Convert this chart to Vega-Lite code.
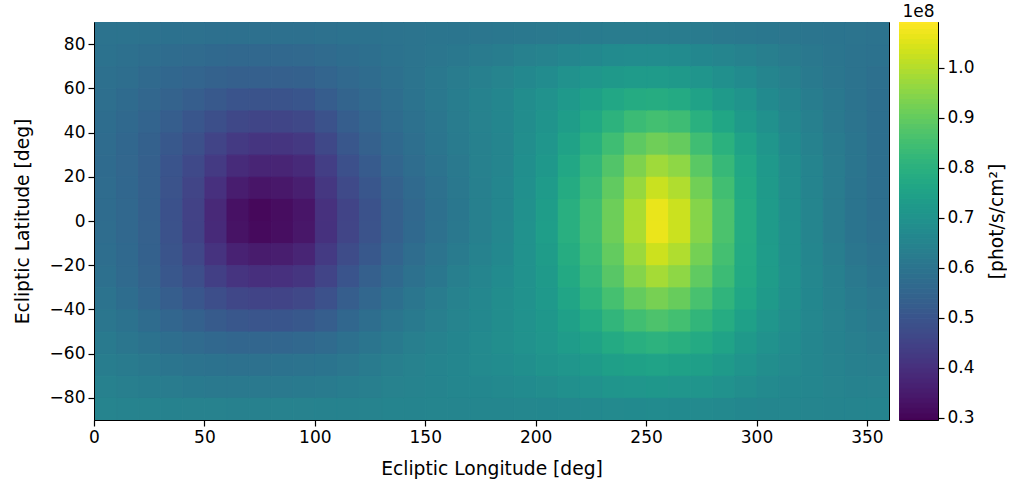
{
"$schema": "https://vega.github.io/schema/vega-lite/v6.json",
"background": "white",
"padding": {"left": 12, "top": 2, "right": 0, "bottom": 0},
"spacing": 8,
"config": {
"font": "DejaVu Sans",
"view": {"stroke": "#000", "strokeWidth": 1},
"axis": {"labelFont": "DejaVu Sans", "labelFontSize": 17, "labelColor": "#000", "titleFont": "DejaVu Sans", "titleFontSize": 18.7, "titleFontWeight": "normal", "titleColor": "#000", "tickColor": "#000", "tickSize": 6, "tickWidth": 1.2, "domainColor": "#000", "domainWidth": 1, "grid": false, "labelPadding": 3},
"title": {"font": "DejaVu Sans", "fontSize": 17, "fontWeight": "normal", "color": "#000"}
},
"hconcat": [
{
"width": 795, "height": 398,
"data": {"values": [
{"lon":5,"lat":85,"v":0.598},{"lon":5,"lat":75,"v":0.593},{"lon":5,"lat":65,"v":0.588},{"lon":5,"lat":55,"v":0.583},{"lon":5,"lat":45,"v":0.578},{"lon":5,"lat":35,"v":0.573},{"lon":5,"lat":25,"v":0.571},{"lon":5,"lat":15,"v":0.573},{"lon":5,"lat":5,"v":0.575},{"lon":5,"lat":-5,"v":0.577},{"lon":5,"lat":-15,"v":0.581},{"lon":5,"lat":-25,"v":0.587},{"lon":5,"lat":-35,"v":0.596},{"lon":5,"lat":-45,"v":0.608},{"lon":5,"lat":-55,"v":0.619},{"lon":5,"lat":-65,"v":0.63},{"lon":5,"lat":-75,"v":0.64},{"lon":5,"lat":-85,"v":0.65},
{"lon":15,"lat":85,"v":0.596},{"lon":15,"lat":75,"v":0.588},{"lon":15,"lat":65,"v":0.579},{"lon":15,"lat":55,"v":0.572},{"lon":15,"lat":45,"v":0.565},{"lon":15,"lat":35,"v":0.558},{"lon":15,"lat":25,"v":0.556},{"lon":15,"lat":15,"v":0.558},{"lon":15,"lat":5,"v":0.56},{"lon":15,"lat":-5,"v":0.561},{"lon":15,"lat":-15,"v":0.564},{"lon":15,"lat":-25,"v":0.568},{"lon":15,"lat":-35,"v":0.578},{"lon":15,"lat":-45,"v":0.593},{"lon":15,"lat":-55,"v":0.608},{"lon":15,"lat":-65,"v":0.622},{"lon":15,"lat":-75,"v":0.635},{"lon":15,"lat":-85,"v":0.648},
{"lon":25,"lat":85,"v":0.593},{"lon":25,"lat":75,"v":0.58},{"lon":25,"lat":65,"v":0.567},{"lon":25,"lat":55,"v":0.556},{"lon":25,"lat":45,"v":0.548},{"lon":25,"lat":35,"v":0.539},{"lon":25,"lat":25,"v":0.535},{"lon":25,"lat":15,"v":0.535},{"lon":25,"lat":5,"v":0.535},{"lon":25,"lat":-5,"v":0.536},{"lon":25,"lat":-15,"v":0.539},{"lon":25,"lat":-25,"v":0.543},{"lon":25,"lat":-35,"v":0.555},{"lon":25,"lat":-45,"v":0.575},{"lon":25,"lat":-55,"v":0.595},{"lon":25,"lat":-65,"v":0.613},{"lon":25,"lat":-75,"v":0.63},{"lon":25,"lat":-85,"v":0.647},
{"lon":35,"lat":85,"v":0.592},{"lon":35,"lat":75,"v":0.575},{"lon":35,"lat":65,"v":0.558},{"lon":35,"lat":55,"v":0.543},{"lon":35,"lat":45,"v":0.528},{"lon":35,"lat":35,"v":0.513},{"lon":35,"lat":25,"v":0.502},{"lon":35,"lat":15,"v":0.496},{"lon":35,"lat":5,"v":0.492},{"lon":35,"lat":-5,"v":0.493},{"lon":35,"lat":-15,"v":0.5},{"lon":35,"lat":-25,"v":0.51},{"lon":35,"lat":-35,"v":0.528},{"lon":35,"lat":-45,"v":0.555},{"lon":35,"lat":-55,"v":0.582},{"lon":35,"lat":-65,"v":0.605},{"lon":35,"lat":-75,"v":0.625},{"lon":35,"lat":-85,"v":0.645},
{"lon":45,"lat":85,"v":0.59},{"lon":45,"lat":75,"v":0.57},{"lon":45,"lat":65,"v":0.55},{"lon":45,"lat":55,"v":0.529},{"lon":45,"lat":45,"v":0.508},{"lon":45,"lat":35,"v":0.486},{"lon":45,"lat":25,"v":0.468},{"lon":45,"lat":15,"v":0.457},{"lon":45,"lat":5,"v":0.448},{"lon":45,"lat":-5,"v":0.45},{"lon":45,"lat":-15,"v":0.463},{"lon":45,"lat":-25,"v":0.48},{"lon":45,"lat":-35,"v":0.506},{"lon":45,"lat":-45,"v":0.538},{"lon":45,"lat":-55,"v":0.569},{"lon":45,"lat":-65,"v":0.597},{"lon":45,"lat":-75,"v":0.62},{"lon":45,"lat":-85,"v":0.643},
{"lon":55,"lat":85,"v":0.588},{"lon":55,"lat":75,"v":0.565},{"lon":55,"lat":65,"v":0.542},{"lon":55,"lat":55,"v":0.515},{"lon":55,"lat":45,"v":0.485},{"lon":55,"lat":35,"v":0.455},{"lon":55,"lat":25,"v":0.427},{"lon":55,"lat":15,"v":0.404},{"lon":55,"lat":5,"v":0.386},{"lon":55,"lat":-5,"v":0.388},{"lon":55,"lat":-15,"v":0.412},{"lon":55,"lat":-25,"v":0.442},{"lon":55,"lat":-35,"v":0.48},{"lon":55,"lat":-45,"v":0.52},{"lon":55,"lat":-55,"v":0.56},{"lon":55,"lat":-65,"v":0.593},{"lon":55,"lat":-75,"v":0.618},{"lon":55,"lat":-85,"v":0.643},
{"lon":65,"lat":85,"v":0.587},{"lon":65,"lat":75,"v":0.56},{"lon":65,"lat":65,"v":0.533},{"lon":65,"lat":55,"v":0.502},{"lon":65,"lat":45,"v":0.465},{"lon":65,"lat":35,"v":0.428},{"lon":65,"lat":25,"v":0.39},{"lon":65,"lat":15,"v":0.356},{"lon":65,"lat":5,"v":0.329},{"lon":65,"lat":-5,"v":0.332},{"lon":65,"lat":-15,"v":0.368},{"lon":65,"lat":-25,"v":0.414},{"lon":65,"lat":-35,"v":0.463},{"lon":65,"lat":-45,"v":0.509},{"lon":65,"lat":-55,"v":0.555},{"lon":65,"lat":-65,"v":0.591},{"lon":65,"lat":-75,"v":0.617},{"lon":65,"lat":-85,"v":0.642},
{"lon":75,"lat":85,"v":0.587},{"lon":75,"lat":75,"v":0.56},{"lon":75,"lat":65,"v":0.533},{"lon":75,"lat":55,"v":0.499},{"lon":75,"lat":45,"v":0.458},{"lon":75,"lat":35,"v":0.416},{"lon":75,"lat":25,"v":0.374},{"lon":75,"lat":15,"v":0.338},{"lon":75,"lat":5,"v":0.31},{"lon":75,"lat":-5,"v":0.313},{"lon":75,"lat":-15,"v":0.352},{"lon":75,"lat":-25,"v":0.401},{"lon":75,"lat":-35,"v":0.455},{"lon":75,"lat":-45,"v":0.504},{"lon":75,"lat":-55,"v":0.553},{"lon":75,"lat":-65,"v":0.591},{"lon":75,"lat":-75,"v":0.617},{"lon":75,"lat":-85,"v":0.642},
{"lon":85,"lat":85,"v":0.587},{"lon":85,"lat":75,"v":0.56},{"lon":85,"lat":65,"v":0.533},{"lon":85,"lat":55,"v":0.499},{"lon":85,"lat":45,"v":0.458},{"lon":85,"lat":35,"v":0.416},{"lon":85,"lat":25,"v":0.376},{"lon":85,"lat":15,"v":0.344},{"lon":85,"lat":5,"v":0.319},{"lon":85,"lat":-5,"v":0.322},{"lon":85,"lat":-15,"v":0.358},{"lon":85,"lat":-25,"v":0.404},{"lon":85,"lat":-35,"v":0.455},{"lon":85,"lat":-45,"v":0.505},{"lon":85,"lat":-55,"v":0.555},{"lon":85,"lat":-65,"v":0.593},{"lon":85,"lat":-75,"v":0.618},{"lon":85,"lat":-85,"v":0.643},
{"lon":95,"lat":85,"v":0.588},{"lon":95,"lat":75,"v":0.563},{"lon":95,"lat":65,"v":0.538},{"lon":95,"lat":55,"v":0.505},{"lon":95,"lat":45,"v":0.465},{"lon":95,"lat":35,"v":0.425},{"lon":95,"lat":25,"v":0.389},{"lon":95,"lat":15,"v":0.36},{"lon":95,"lat":5,"v":0.338},{"lon":95,"lat":-5,"v":0.341},{"lon":95,"lat":-15,"v":0.374},{"lon":95,"lat":-25,"v":0.416},{"lon":95,"lat":-35,"v":0.464},{"lon":95,"lat":-45,"v":0.513},{"lon":95,"lat":-55,"v":0.561},{"lon":95,"lat":-65,"v":0.597},{"lon":95,"lat":-75,"v":0.62},{"lon":95,"lat":-85,"v":0.643},
{"lon":105,"lat":85,"v":0.59},{"lon":105,"lat":75,"v":0.57},{"lon":105,"lat":65,"v":0.55},{"lon":105,"lat":55,"v":0.525},{"lon":105,"lat":45,"v":0.495},{"lon":105,"lat":35,"v":0.465},{"lon":105,"lat":25,"v":0.439},{"lon":105,"lat":15,"v":0.42},{"lon":105,"lat":5,"v":0.405},{"lon":105,"lat":-5,"v":0.407},{"lon":105,"lat":-15,"v":0.428},{"lon":105,"lat":-25,"v":0.455},{"lon":105,"lat":-35,"v":0.49},{"lon":105,"lat":-45,"v":0.53},{"lon":105,"lat":-55,"v":0.57},{"lon":105,"lat":-65,"v":0.601},{"lon":105,"lat":-75,"v":0.623},{"lon":105,"lat":-85,"v":0.644},
{"lon":115,"lat":85,"v":0.593},{"lon":115,"lat":75,"v":0.578},{"lon":115,"lat":65,"v":0.563},{"lon":115,"lat":55,"v":0.546},{"lon":115,"lat":45,"v":0.528},{"lon":115,"lat":35,"v":0.509},{"lon":115,"lat":25,"v":0.489},{"lon":115,"lat":15,"v":0.47},{"lon":115,"lat":5,"v":0.455},{"lon":115,"lat":-5,"v":0.457},{"lon":115,"lat":-15,"v":0.476},{"lon":115,"lat":-25,"v":0.501},{"lon":115,"lat":-35,"v":0.529},{"lon":115,"lat":-45,"v":0.558},{"lon":115,"lat":-55,"v":0.586},{"lon":115,"lat":-65,"v":0.609},{"lon":115,"lat":-75,"v":0.628},{"lon":115,"lat":-85,"v":0.646},
{"lon":125,"lat":85,"v":0.595},{"lon":125,"lat":75,"v":0.585},{"lon":125,"lat":65,"v":0.575},{"lon":125,"lat":55,"v":0.563},{"lon":125,"lat":45,"v":0.55},{"lon":125,"lat":35,"v":0.537},{"lon":125,"lat":25,"v":0.521},{"lon":125,"lat":15,"v":0.506},{"lon":125,"lat":5,"v":0.494},{"lon":125,"lat":-5,"v":0.496},{"lon":125,"lat":-15,"v":0.512},{"lon":125,"lat":-25,"v":0.533},{"lon":125,"lat":-35,"v":0.557},{"lon":125,"lat":-45,"v":0.58},{"lon":125,"lat":-55,"v":0.603},{"lon":125,"lat":-65,"v":0.622},{"lon":125,"lat":-75,"v":0.635},{"lon":125,"lat":-85,"v":0.648},
{"lon":135,"lat":85,"v":0.598},{"lon":135,"lat":75,"v":0.593},{"lon":135,"lat":65,"v":0.588},{"lon":135,"lat":55,"v":0.581},{"lon":135,"lat":45,"v":0.573},{"lon":135,"lat":35,"v":0.564},{"lon":135,"lat":25,"v":0.553},{"lon":135,"lat":15,"v":0.542},{"lon":135,"lat":5,"v":0.533},{"lon":135,"lat":-5,"v":0.535},{"lon":135,"lat":-15,"v":0.548},{"lon":135,"lat":-25,"v":0.565},{"lon":135,"lat":-35,"v":0.584},{"lon":135,"lat":-45,"v":0.603},{"lon":135,"lat":-55,"v":0.621},{"lon":135,"lat":-65,"v":0.634},{"lon":135,"lat":-75,"v":0.643},{"lon":135,"lat":-85,"v":0.651},
{"lon":145,"lat":85,"v":0.6},{"lon":145,"lat":75,"v":0.6},{"lon":145,"lat":65,"v":0.6},{"lon":145,"lat":55,"v":0.597},{"lon":145,"lat":45,"v":0.59},{"lon":145,"lat":35,"v":0.583},{"lon":145,"lat":25,"v":0.576},{"lon":145,"lat":15,"v":0.568},{"lon":145,"lat":5,"v":0.562},{"lon":145,"lat":-5,"v":0.564},{"lon":145,"lat":-15,"v":0.576},{"lon":145,"lat":-25,"v":0.591},{"lon":145,"lat":-35,"v":0.607},{"lon":145,"lat":-45,"v":0.62},{"lon":145,"lat":-55,"v":0.633},{"lon":145,"lat":-65,"v":0.643},{"lon":145,"lat":-75,"v":0.648},{"lon":145,"lat":-85,"v":0.653},
{"lon":155,"lat":85,"v":0.603},{"lon":155,"lat":75,"v":0.608},{"lon":155,"lat":65,"v":0.613},{"lon":155,"lat":55,"v":0.613},{"lon":155,"lat":45,"v":0.608},{"lon":155,"lat":35,"v":0.603},{"lon":155,"lat":25,"v":0.597},{"lon":155,"lat":15,"v":0.591},{"lon":155,"lat":5,"v":0.587},{"lon":155,"lat":-5,"v":0.589},{"lon":155,"lat":-15,"v":0.599},{"lon":155,"lat":-25,"v":0.612},{"lon":155,"lat":-35,"v":0.625},{"lon":155,"lat":-45,"v":0.635},{"lon":155,"lat":-55,"v":0.645},{"lon":155,"lat":-65,"v":0.651},{"lon":155,"lat":-75,"v":0.653},{"lon":155,"lat":-85,"v":0.654},
{"lon":165,"lat":85,"v":0.605},{"lon":165,"lat":75,"v":0.615},{"lon":165,"lat":65,"v":0.625},{"lon":165,"lat":55,"v":0.628},{"lon":165,"lat":45,"v":0.625},{"lon":165,"lat":35,"v":0.622},{"lon":165,"lat":25,"v":0.618},{"lon":165,"lat":15,"v":0.614},{"lon":165,"lat":5,"v":0.611},{"lon":165,"lat":-5,"v":0.613},{"lon":165,"lat":-15,"v":0.622},{"lon":165,"lat":-25,"v":0.633},{"lon":165,"lat":-35,"v":0.643},{"lon":165,"lat":-45,"v":0.65},{"lon":165,"lat":-55,"v":0.657},{"lon":165,"lat":-65,"v":0.659},{"lon":165,"lat":-75,"v":0.658},{"lon":165,"lat":-85,"v":0.656},
{"lon":175,"lat":85,"v":0.608},{"lon":175,"lat":75,"v":0.623},{"lon":175,"lat":65,"v":0.638},{"lon":175,"lat":55,"v":0.644},{"lon":175,"lat":45,"v":0.643},{"lon":175,"lat":35,"v":0.641},{"lon":175,"lat":25,"v":0.639},{"lon":175,"lat":15,"v":0.637},{"lon":175,"lat":5,"v":0.636},{"lon":175,"lat":-5,"v":0.638},{"lon":175,"lat":-15,"v":0.645},{"lon":175,"lat":-25,"v":0.655},{"lon":175,"lat":-35,"v":0.663},{"lon":175,"lat":-45,"v":0.668},{"lon":175,"lat":-55,"v":0.673},{"lon":175,"lat":-65,"v":0.672},{"lon":175,"lat":-75,"v":0.665},{"lon":175,"lat":-85,"v":0.658},
{"lon":185,"lat":85,"v":0.61},{"lon":185,"lat":75,"v":0.63},{"lon":185,"lat":65,"v":0.65},{"lon":185,"lat":55,"v":0.659},{"lon":185,"lat":45,"v":0.658},{"lon":185,"lat":35,"v":0.656},{"lon":185,"lat":25,"v":0.656},{"lon":185,"lat":15,"v":0.658},{"lon":185,"lat":5,"v":0.66},{"lon":185,"lat":-5,"v":0.662},{"lon":185,"lat":-15,"v":0.668},{"lon":185,"lat":-25,"v":0.676},{"lon":185,"lat":-35,"v":0.681},{"lon":185,"lat":-45,"v":0.683},{"lon":185,"lat":-55,"v":0.684},{"lon":185,"lat":-65,"v":0.68},{"lon":185,"lat":-75,"v":0.67},{"lon":185,"lat":-85,"v":0.66},
{"lon":195,"lat":85,"v":0.613},{"lon":195,"lat":75,"v":0.64},{"lon":195,"lat":65,"v":0.667},{"lon":195,"lat":55,"v":0.681},{"lon":195,"lat":45,"v":0.683},{"lon":195,"lat":35,"v":0.684},{"lon":195,"lat":25,"v":0.687},{"lon":195,"lat":15,"v":0.691},{"lon":195,"lat":5,"v":0.694},{"lon":195,"lat":-5,"v":0.696},{"lon":195,"lat":-15,"v":0.697},{"lon":195,"lat":-25,"v":0.699},{"lon":195,"lat":-35,"v":0.699},{"lon":195,"lat":-45,"v":0.698},{"lon":195,"lat":-55,"v":0.696},{"lon":195,"lat":-65,"v":0.688},{"lon":195,"lat":-75,"v":0.675},{"lon":195,"lat":-85,"v":0.662},
{"lon":205,"lat":85,"v":0.616},{"lon":205,"lat":75,"v":0.648},{"lon":205,"lat":65,"v":0.679},{"lon":205,"lat":55,"v":0.698},{"lon":205,"lat":45,"v":0.705},{"lon":205,"lat":35,"v":0.712},{"lon":205,"lat":25,"v":0.72},{"lon":205,"lat":15,"v":0.73},{"lon":205,"lat":5,"v":0.738},{"lon":205,"lat":-5,"v":0.739},{"lon":205,"lat":-15,"v":0.734},{"lon":205,"lat":-25,"v":0.728},{"lon":205,"lat":-35,"v":0.723},{"lon":205,"lat":-45,"v":0.718},{"lon":205,"lat":-55,"v":0.713},{"lon":205,"lat":-65,"v":0.701},{"lon":205,"lat":-75,"v":0.683},{"lon":205,"lat":-85,"v":0.664},
{"lon":215,"lat":85,"v":0.619},{"lon":215,"lat":75,"v":0.658},{"lon":215,"lat":65,"v":0.696},{"lon":215,"lat":55,"v":0.723},{"lon":215,"lat":45,"v":0.738},{"lon":215,"lat":35,"v":0.753},{"lon":215,"lat":25,"v":0.769},{"lon":215,"lat":15,"v":0.784},{"lon":215,"lat":5,"v":0.796},{"lon":215,"lat":-5,"v":0.797},{"lon":215,"lat":-15,"v":0.788},{"lon":215,"lat":-25,"v":0.777},{"lon":215,"lat":-35,"v":0.763},{"lon":215,"lat":-45,"v":0.748},{"lon":215,"lat":-55,"v":0.733},{"lon":215,"lat":-65,"v":0.713},{"lon":215,"lat":-75,"v":0.69},{"lon":215,"lat":-85,"v":0.667},
{"lon":225,"lat":85,"v":0.623},{"lon":225,"lat":75,"v":0.668},{"lon":225,"lat":65,"v":0.713},{"lon":225,"lat":55,"v":0.748},{"lon":225,"lat":45,"v":0.773},{"lon":225,"lat":35,"v":0.798},{"lon":225,"lat":25,"v":0.819},{"lon":225,"lat":15,"v":0.834},{"lon":225,"lat":5,"v":0.846},{"lon":225,"lat":-5,"v":0.847},{"lon":225,"lat":-15,"v":0.838},{"lon":225,"lat":-25,"v":0.827},{"lon":225,"lat":-35,"v":0.807},{"lon":225,"lat":-45,"v":0.78},{"lon":225,"lat":-55,"v":0.753},{"lon":225,"lat":-65,"v":0.726},{"lon":225,"lat":-75,"v":0.698},{"lon":225,"lat":-85,"v":0.669},
{"lon":235,"lat":85,"v":0.625},{"lon":235,"lat":75,"v":0.675},{"lon":235,"lat":65,"v":0.725},{"lon":235,"lat":55,"v":0.769},{"lon":235,"lat":45,"v":0.808},{"lon":235,"lat":35,"v":0.846},{"lon":235,"lat":25,"v":0.877},{"lon":235,"lat":15,"v":0.898},{"lon":235,"lat":5,"v":0.915},{"lon":235,"lat":-5,"v":0.916},{"lon":235,"lat":-15,"v":0.902},{"lon":235,"lat":-25,"v":0.885},{"lon":235,"lat":-35,"v":0.856},{"lon":235,"lat":-45,"v":0.818},{"lon":235,"lat":-55,"v":0.779},{"lon":235,"lat":-65,"v":0.743},{"lon":235,"lat":-75,"v":0.708},{"lon":235,"lat":-85,"v":0.673},
{"lon":245,"lat":85,"v":0.626},{"lon":245,"lat":75,"v":0.678},{"lon":245,"lat":65,"v":0.729},{"lon":245,"lat":55,"v":0.783},{"lon":245,"lat":45,"v":0.838},{"lon":245,"lat":35,"v":0.893},{"lon":245,"lat":25,"v":0.938},{"lon":245,"lat":15,"v":0.968},{"lon":245,"lat":5,"v":0.992},{"lon":245,"lat":-5,"v":0.993},{"lon":245,"lat":-15,"v":0.972},{"lon":245,"lat":-25,"v":0.945},{"lon":245,"lat":-35,"v":0.903},{"lon":245,"lat":-45,"v":0.85},{"lon":245,"lat":-55,"v":0.797},{"lon":245,"lat":-65,"v":0.751},{"lon":245,"lat":-75,"v":0.713},{"lon":245,"lat":-85,"v":0.674},
{"lon":255,"lat":85,"v":0.626},{"lon":255,"lat":75,"v":0.678},{"lon":255,"lat":65,"v":0.729},{"lon":255,"lat":55,"v":0.788},{"lon":255,"lat":45,"v":0.853},{"lon":255,"lat":35,"v":0.918},{"lon":255,"lat":25,"v":0.979},{"lon":255,"lat":15,"v":1.028},{"lon":255,"lat":5,"v":1.067},{"lon":255,"lat":-5,"v":1.068},{"lon":255,"lat":-15,"v":1.032},{"lon":255,"lat":-25,"v":0.986},{"lon":255,"lat":-35,"v":0.929},{"lon":255,"lat":-45,"v":0.868},{"lon":255,"lat":-55,"v":0.806},{"lon":255,"lat":-65,"v":0.755},{"lon":255,"lat":-75,"v":0.715},{"lon":255,"lat":-85,"v":0.675},
{"lon":265,"lat":85,"v":0.625},{"lon":265,"lat":75,"v":0.675},{"lon":265,"lat":65,"v":0.725},{"lon":265,"lat":55,"v":0.781},{"lon":265,"lat":45,"v":0.843},{"lon":265,"lat":35,"v":0.904},{"lon":265,"lat":25,"v":0.958},{"lon":265,"lat":15,"v":0.998},{"lon":265,"lat":5,"v":1.03},{"lon":265,"lat":-5,"v":1.03},{"lon":265,"lat":-15,"v":0.998},{"lon":265,"lat":-25,"v":0.958},{"lon":265,"lat":-35,"v":0.908},{"lon":265,"lat":-45,"v":0.853},{"lon":265,"lat":-55,"v":0.798},{"lon":265,"lat":-65,"v":0.751},{"lon":265,"lat":-75,"v":0.713},{"lon":265,"lat":-85,"v":0.674},
{"lon":275,"lat":85,"v":0.622},{"lon":275,"lat":75,"v":0.665},{"lon":275,"lat":65,"v":0.708},{"lon":275,"lat":55,"v":0.753},{"lon":275,"lat":45,"v":0.8},{"lon":275,"lat":35,"v":0.847},{"lon":275,"lat":25,"v":0.889},{"lon":275,"lat":15,"v":0.921},{"lon":275,"lat":5,"v":0.947},{"lon":275,"lat":-5,"v":0.948},{"lon":275,"lat":-15,"v":0.925},{"lon":275,"lat":-25,"v":0.897},{"lon":275,"lat":-35,"v":0.86},{"lon":275,"lat":-45,"v":0.82},{"lon":275,"lat":-55,"v":0.78},{"lon":275,"lat":-65,"v":0.743},{"lon":275,"lat":-75,"v":0.708},{"lon":275,"lat":-85,"v":0.673},
{"lon":285,"lat":85,"v":0.618},{"lon":285,"lat":75,"v":0.655},{"lon":285,"lat":65,"v":0.692},{"lon":285,"lat":55,"v":0.728},{"lon":285,"lat":45,"v":0.765},{"lon":285,"lat":35,"v":0.802},{"lon":285,"lat":25,"v":0.831},{"lon":285,"lat":15,"v":0.85},{"lon":285,"lat":5,"v":0.865},{"lon":285,"lat":-5,"v":0.866},{"lon":285,"lat":-15,"v":0.854},{"lon":285,"lat":-25,"v":0.839},{"lon":285,"lat":-35,"v":0.815},{"lon":285,"lat":-45,"v":0.785},{"lon":285,"lat":-55,"v":0.755},{"lon":285,"lat":-65,"v":0.726},{"lon":285,"lat":-75,"v":0.698},{"lon":285,"lat":-85,"v":0.669},
{"lon":295,"lat":85,"v":0.615},{"lon":295,"lat":75,"v":0.645},{"lon":295,"lat":65,"v":0.675},{"lon":295,"lat":55,"v":0.703},{"lon":295,"lat":45,"v":0.728},{"lon":295,"lat":35,"v":0.753},{"lon":295,"lat":25,"v":0.769},{"lon":295,"lat":15,"v":0.777},{"lon":295,"lat":5,"v":0.783},{"lon":295,"lat":-5,"v":0.784},{"lon":295,"lat":-15,"v":0.781},{"lon":295,"lat":-25,"v":0.777},{"lon":295,"lat":-35,"v":0.765},{"lon":295,"lat":-45,"v":0.745},{"lon":295,"lat":-55,"v":0.725},{"lon":295,"lat":-65,"v":0.705},{"lon":295,"lat":-75,"v":0.685},{"lon":295,"lat":-85,"v":0.665},
{"lon":305,"lat":85,"v":0.611},{"lon":305,"lat":75,"v":0.633},{"lon":305,"lat":65,"v":0.654},{"lon":305,"lat":55,"v":0.674},{"lon":305,"lat":45,"v":0.693},{"lon":305,"lat":35,"v":0.711},{"lon":305,"lat":25,"v":0.722},{"lon":305,"lat":15,"v":0.726},{"lon":305,"lat":5,"v":0.729},{"lon":305,"lat":-5,"v":0.731},{"lon":305,"lat":-15,"v":0.732},{"lon":305,"lat":-25,"v":0.734},{"lon":305,"lat":-35,"v":0.728},{"lon":305,"lat":-45,"v":0.713},{"lon":305,"lat":-55,"v":0.698},{"lon":305,"lat":-65,"v":0.684},{"lon":305,"lat":-75,"v":0.673},{"lon":305,"lat":-85,"v":0.661},
{"lon":315,"lat":85,"v":0.608},{"lon":315,"lat":75,"v":0.623},{"lon":315,"lat":65,"v":0.638},{"lon":315,"lat":55,"v":0.651},{"lon":315,"lat":45,"v":0.663},{"lon":315,"lat":35,"v":0.674},{"lon":315,"lat":25,"v":0.682},{"lon":315,"lat":15,"v":0.686},{"lon":315,"lat":5,"v":0.689},{"lon":315,"lat":-5,"v":0.691},{"lon":315,"lat":-15,"v":0.692},{"lon":315,"lat":-25,"v":0.694},{"lon":315,"lat":-35,"v":0.692},{"lon":315,"lat":-45,"v":0.685},{"lon":315,"lat":-55,"v":0.678},{"lon":315,"lat":-65,"v":0.672},{"lon":315,"lat":-75,"v":0.665},{"lon":315,"lat":-85,"v":0.658},
{"lon":325,"lat":85,"v":0.604},{"lon":325,"lat":75,"v":0.613},{"lon":325,"lat":65,"v":0.621},{"lon":325,"lat":55,"v":0.629},{"lon":325,"lat":45,"v":0.638},{"lon":325,"lat":35,"v":0.646},{"lon":325,"lat":25,"v":0.651},{"lon":325,"lat":15,"v":0.653},{"lon":325,"lat":5,"v":0.655},{"lon":325,"lat":-5,"v":0.656},{"lon":325,"lat":-15,"v":0.659},{"lon":325,"lat":-25,"v":0.663},{"lon":325,"lat":-35,"v":0.664},{"lon":325,"lat":-45,"v":0.663},{"lon":325,"lat":-55,"v":0.661},{"lon":325,"lat":-65,"v":0.659},{"lon":325,"lat":-75,"v":0.658},{"lon":325,"lat":-85,"v":0.656},
{"lon":335,"lat":85,"v":0.602},{"lon":335,"lat":75,"v":0.605},{"lon":335,"lat":65,"v":0.608},{"lon":335,"lat":55,"v":0.613},{"lon":335,"lat":45,"v":0.618},{"lon":335,"lat":35,"v":0.623},{"lon":335,"lat":25,"v":0.625},{"lon":335,"lat":15,"v":0.625},{"lon":335,"lat":5,"v":0.625},{"lon":335,"lat":-5,"v":0.627},{"lon":335,"lat":-15,"v":0.631},{"lon":335,"lat":-25,"v":0.637},{"lon":335,"lat":-35,"v":0.641},{"lon":335,"lat":-45,"v":0.643},{"lon":335,"lat":-55,"v":0.644},{"lon":335,"lat":-65,"v":0.647},{"lon":335,"lat":-75,"v":0.65},{"lon":335,"lat":-85,"v":0.653},
{"lon":345,"lat":85,"v":0.599},{"lon":345,"lat":75,"v":0.598},{"lon":345,"lat":65,"v":0.596},{"lon":345,"lat":55,"v":0.597},{"lon":345,"lat":45,"v":0.6},{"lon":345,"lat":35,"v":0.603},{"lon":345,"lat":25,"v":0.604},{"lon":345,"lat":15,"v":0.602},{"lon":345,"lat":5,"v":0.601},{"lon":345,"lat":-5,"v":0.602},{"lon":345,"lat":-15,"v":0.608},{"lon":345,"lat":-25,"v":0.616},{"lon":345,"lat":-35,"v":0.623},{"lon":345,"lat":-45,"v":0.628},{"lon":345,"lat":-55,"v":0.633},{"lon":345,"lat":-65,"v":0.638},{"lon":345,"lat":-75,"v":0.645},{"lon":345,"lat":-85,"v":0.652},
{"lon":355,"lat":85,"v":0.598},{"lon":355,"lat":75,"v":0.593},{"lon":355,"lat":65,"v":0.588},{"lon":355,"lat":55,"v":0.585},{"lon":355,"lat":45,"v":0.585},{"lon":355,"lat":35,"v":0.585},{"lon":355,"lat":25,"v":0.585},{"lon":355,"lat":15,"v":0.585},{"lon":355,"lat":5,"v":0.585},{"lon":355,"lat":-5,"v":0.587},{"lon":355,"lat":-15,"v":0.593},{"lon":355,"lat":-25,"v":0.601},{"lon":355,"lat":-35,"v":0.609},{"lon":355,"lat":-45,"v":0.618},{"lon":355,"lat":-55,"v":0.626},{"lon":355,"lat":-65,"v":0.634},{"lon":355,"lat":-75,"v":0.643},{"lon":355,"lat":-85,"v":0.651}
]},
"mark": {"type": "rect", "binSpacing": 0, "strokeWidth": 1, "clip": true},
"encoding": {
"x": {"field": "lon", "type": "quantitative", "bin": {"step": 10, "extent": [0, 360]}, "scale": {"domain": [0, 360], "nice": false, "zero": false}, "axis": {"values": [0, 50, 100, 150, 200, 250, 300, 350], "format": "d", "title": "Ecliptic Longitude [deg]", "labelFlush": false, "titlePadding": 14}},
"y": {"field": "lat", "type": "quantitative", "bin": {"step": 10, "extent": [-90, 90]}, "scale": {"domain": [-90, 90], "nice": false, "zero": false}, "axis": {"values": [-80, -60, -40, -20, 0, 20, 40, 60, 80], "format": "d", "title": "Ecliptic Latitude [deg]", "labelFlush": false, "titlePadding": 17}},
"color": {"field": "v", "type": "quantitative", "scale": {"scheme": "viridis", "domain": [0.295, 1.092], "clamp": true}, "legend": null},
"stroke": {"field": "v", "type": "quantitative", "scale": {"scheme": "viridis", "domain": [0.295, 1.092], "clamp": true}, "legend": null}
}
},
{
"width": 39, "height": 398,
"title": {"text": "1e8", "anchor": "middle", "offset": 1, "fontSize": 17},
"data": {"values": [
{"c":0.295},{"c":0.305},{"c":0.315},{"c":0.325},{"c":0.335},{"c":0.345},{"c":0.355},{"c":0.365},{"c":0.375},{"c":0.385},
{"c":0.395},{"c":0.405},{"c":0.415},{"c":0.425},{"c":0.435},{"c":0.445},{"c":0.455},{"c":0.465},{"c":0.475},{"c":0.485},
{"c":0.495},{"c":0.505},{"c":0.515},{"c":0.525},{"c":0.535},{"c":0.545},{"c":0.555},{"c":0.565},{"c":0.575},{"c":0.585},
{"c":0.595},{"c":0.605},{"c":0.615},{"c":0.625},{"c":0.635},{"c":0.645},{"c":0.655},{"c":0.665},{"c":0.675},{"c":0.685},
{"c":0.695},{"c":0.705},{"c":0.715},{"c":0.725},{"c":0.735},{"c":0.745},{"c":0.755},{"c":0.765},{"c":0.775},{"c":0.785},
{"c":0.795},{"c":0.805},{"c":0.815},{"c":0.825},{"c":0.835},{"c":0.845},{"c":0.855},{"c":0.865},{"c":0.875},{"c":0.885},
{"c":0.895},{"c":0.905},{"c":0.915},{"c":0.925},{"c":0.935},{"c":0.945},{"c":0.955},{"c":0.965},{"c":0.975},{"c":0.985},
{"c":0.995},{"c":1.005},{"c":1.015},{"c":1.025},{"c":1.035},{"c":1.045},{"c":1.055},{"c":1.065},{"c":1.075},{"c":1.085},
{"c":1.095}
]},
"mark": {"type": "rect", "binSpacing": 0, "strokeWidth": 1, "clip": true},
"encoding": {
"y": {"field": "c", "type": "quantitative", "bin": {"step": 0.01, "extent": [0.29, 1.1]}, "scale": {"domain": [0.295, 1.092], "nice": false, "zero": false}, "axis": {"orient": "right", "values": [0.3, 0.4, 0.5, 0.6, 0.7, 0.8, 0.9, 1.0], "format": ".1f", "title": "[phot/s/cm²]", "titleAngle": 270, "titleBaseline": "top", "titlePadding": 13, "labelFlush": false}},
"color": {"field": "c", "type": "quantitative", "scale": {"scheme": "viridis", "domain": [0.295, 1.092], "clamp": true}, "legend": null},
"stroke": {"field": "c", "type": "quantitative", "scale": {"scheme": "viridis", "domain": [0.295, 1.092], "clamp": true}, "legend": null}
}
}
]
}
